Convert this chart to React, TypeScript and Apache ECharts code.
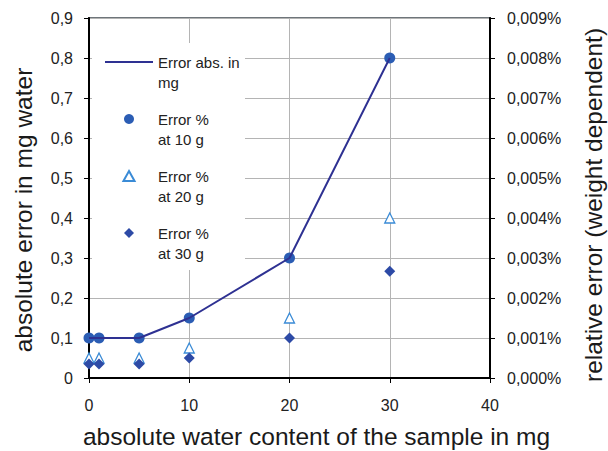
import React, { useEffect, useRef } from "react";
import * as echarts from "echarts";

const waterContent = [0, 1, 5, 10, 20, 30];
const absError = [0.1, 0.1, 0.1, 0.15, 0.3, 0.8];
const relError10g = [0.001, 0.001, 0.001, 0.0015, 0.003, 0.008];
const relError20g = [0.0005, 0.0005, 0.0005, 0.00075, 0.0015, 0.004];
const relError30g = [0.00035, 0.00035, 0.00035, 0.0005, 0.001, 0.00267];

const seriesNames = ["Error abs. in\nmg", "Error %\nat 10 g", "Error %\nat 20 g", "Error %\nat 30 g"];

const FONT = "'Liberation Sans', Arial, sans-serif";
const TITLE_SIZE = 24.5;

const pairs = (xs: number[], ys: number[]) => xs.map((x, i) => [x, ys[i]]);

export default function App() {
  const ref = useRef<HTMLDivElement>(null);
  useEffect(() => {
    if (!ref.current) return;
    const chart = echarts.init(ref.current, undefined, { renderer: "svg" });
    chart.setOption({
      animation: false,
      backgroundColor: "#ffffff",
      textStyle: { fontFamily: FONT },
      grid: {
        left: 89,
        right: 118,
        top: 18,
        bottom: 73,
        containLabel: false,
        outerBoundsMode: "none",
        show: true,
        borderColor: "#6e757a",
        borderWidth: 2,
        backgroundColor: "transparent",
      },
      graphic: [
        {
          type: "rect",
          z: 1,
          shape: { x: 92, y: 43, width: 153, height: 227 },
          style: { fill: "#ffffff" },
          silent: true,
        },
      ],
      legend: {
        orient: "vertical",
        left: 105,
        top: 32,
        padding: 0,
        itemWidth: 48,
        itemHeight: 10,
        itemGap: -3,
        symbolKeepAspect: true,
        formatter: (name: string) => "\n" + name,
        data: [
          { name: seriesNames[0], icon: "path://M0,0 L48,0 L48,2 L0,2 Z" },
          { name: seriesNames[1], icon: "circle" },
          { name: seriesNames[2], icon: "path://M5,0 L10,9 L0,9 Z" },
          { name: seriesNames[3], icon: "path://M5,0 L10,5 L5,10 L0,5 Z" },
        ],
        textStyle: {
          fontFamily: FONT,
          fontSize: 15,
          color: "#222",
          lineHeight: 20,
        },
      },
      xAxis: {
        type: "value",
        min: 0,
        max: 40,
        interval: 10,
        name: "absolute water content of the sample in mg",
        nameLocation: "middle",
        nameGap: 46,
        nameTextStyle: { fontSize: TITLE_SIZE, color: "#1a1a1a", fontFamily: FONT, padding: [0, 0, 0, 54] },
        axisLine: { lineStyle: { color: "#000", width: 2 } },
        axisTick: { show: true, length: 5, lineStyle: { color: "#000" } },
        axisLabel: { fontSize: 16, color: "#222", margin: 19, fontFamily: FONT },
        splitLine: { show: true, lineStyle: { color: "#b4b4b4", width: 1 } },
      },
      yAxis: [
        {
          type: "value",
          min: 0,
          max: 0.9,
          interval: 0.1,
          position: "left",
          name: "absolute error in mg water",
          nameLocation: "middle",
          nameRotate: 90,
          nameGap: 53,
          nameTextStyle: { fontSize: TITLE_SIZE, color: "#1a1a1a", fontFamily: FONT, padding: [0, 24, 0, 0] },
          axisLine: { show: true, lineStyle: { color: "#000", width: 2 } },
          axisTick: { show: true, length: 5, lineStyle: { color: "#000" } },
          axisLabel: {
            fontSize: 16,
            color: "#222",
            margin: 16,
            fontFamily: FONT,
            formatter: (v: number) => (v === 0 ? "0" : v.toFixed(1).replace(".", ",")),
          },
          splitLine: { show: true, lineStyle: { color: "#b4b4b4", width: 1 } },
        },
        {
          type: "value",
          min: 0,
          max: 0.009,
          interval: 0.001,
          position: "right",
          name: "relative error (weight dependent)",
          nameLocation: "middle",
          nameRotate: 90,
          nameGap: 91,
          nameTextStyle: { fontSize: TITLE_SIZE, color: "#1a1a1a", fontFamily: FONT, padding: [0, 14, 0, 0] },
          axisLine: { show: true, lineStyle: { color: "#000", width: 2 } },
          axisTick: { show: true, length: 5, lineStyle: { color: "#000" } },
          axisLabel: {
            fontSize: 16,
            color: "#222",
            margin: 17,
            fontFamily: FONT,
            formatter: (v: number) => v.toFixed(3).replace(".", ",") + "%",
          },
          splitLine: { show: false },
        },
      ],
      series: [
        {
          name: seriesNames[0],
          type: "line",
          yAxisIndex: 0,
          symbol: "none",
          data: pairs(waterContent, absError),
          lineStyle: { color: "#2e3192", width: 2 },
          itemStyle: { color: "#2e3192" },
        },
        {
          name: seriesNames[1],
          type: "scatter",
          yAxisIndex: 1,
          symbol: "circle",
          symbolSize: 11,
          data: pairs(waterContent, relError10g),
          itemStyle: { color: "#2b5db4", opacity: 1 },
        },
        {
          name: seriesNames[2],
          type: "scatter",
          yAxisIndex: 1,
          symbol: "triangle",
          symbolSize: 10,
          data: pairs(waterContent, relError20g),
          itemStyle: { color: "#ffffff", borderColor: "#3a8bd6", borderWidth: 1.3, opacity: 1 },
        },
        {
          name: seriesNames[3],
          type: "scatter",
          yAxisIndex: 1,
          symbol: "diamond",
          symbolSize: 11,
          data: pairs(waterContent, relError30g),
          itemStyle: { color: "#2d4aa6", opacity: 1 },
        },
      ],
    });
    return () => chart.dispose();
  }, []);
  return (
    <div
      ref={ref}
      style={{ position: "absolute", left: 0, top: 0, width: 608, height: 451 }}
    />
  );
}
